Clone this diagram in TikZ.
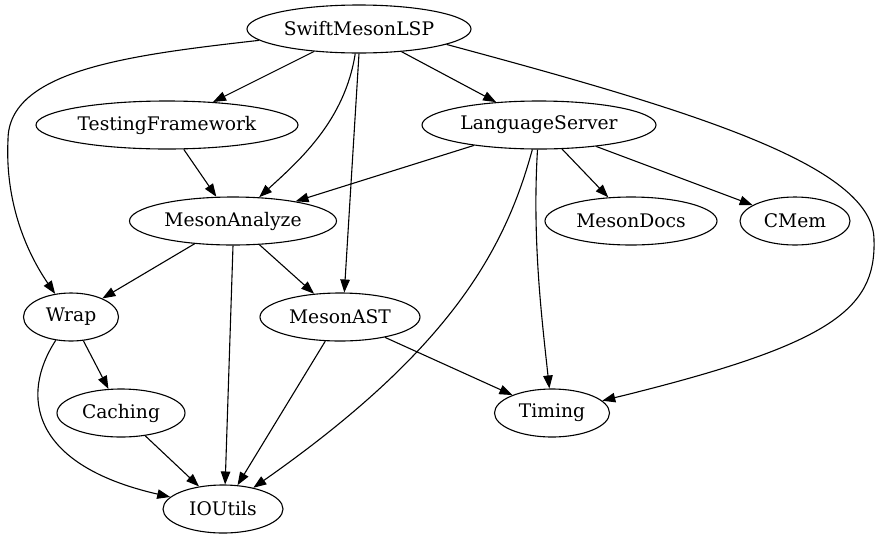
\documentclass[tikz,border=0pt]{standalone}
\usepackage{fontspec}
\setmainfont{DejaVu Serif}
\usetikzlibrary{shapes.geometric,arrows.meta}
\begin{document}
\begin{tikzpicture}[x=1pt,y=-1pt,
  nd/.style={draw,ellipse,inner sep=0pt,minimum height=48pt,line width=1.1pt,font=\fontsize{18.7}{22}\selectfont},
  edge/.style={draw,line width=1.1pt,-{Triangle[length=13pt,width=9.5pt]}},
  plain/.style={draw,line width=1.1pt}]
\useasboundingbox (0,0) rectangle (880,539);
\node[nd,minimum width=224pt] (S) at (359,29) {SwiftMesonLSP};
\node[nd,minimum width=262pt] (TF) at (167,125) {TestingFramework};
\node[nd,minimum width=234pt] (LS) at (539,125) {LanguageServer};
\node[nd,minimum width=207pt] (MA) at (233,221) {MesonAnalyze};
\node[nd,minimum width=172pt] (MD) at (631,221) {MesonDocs};
\node[nd,minimum width=110pt] (CM) at (795,221) {CMem};
\node[nd,minimum width=95pt] (W) at (71,317) {Wrap};
\node[nd,minimum width=160pt] (AST) at (340,317) {MesonAST};
\node[nd,minimum width=128pt] (C) at (121,413) {Caching};
\node[nd,minimum width=115pt] (T) at (552,413) {Timing};
\node[nd,minimum width=120pt] (IO) at (223,509) {IOUtils};
\coordinate (wl) at (8,140);
\coordinate (tr) at (874,240);
% straight edges
\draw[edge] (S) -- (TF);
\draw[edge] (S) -- (LS);
\draw[edge] (S.south) -- (AST.80);
\draw[edge] (TF) -- (MA);
\draw[edge] (LS) -- (MA);
\draw[edge] (LS) -- (MD);
\draw[edge] (LS) -- (CM);
\draw[edge] (MA) -- (W);
\draw[edge] (MA) -- (AST);
\draw[edge] (W) -- (C);
\draw[edge] (C) -- (IO);
\draw[edge] (AST) -- (IO);
\draw[edge] (AST) -- (T);
\draw[edge] (MA.south) -- (IO.85);
% curved edges
\draw[plain] (S) .. controls (130,55) and (8,70) .. (wl);
\draw[edge] (wl) .. controls (5,200) and (25,250) .. (W);
\draw[edge] (S) .. controls (345,120) and (300,160) .. (MA);
\draw[plain] (S.-10) .. controls (690,110) and (874,165) .. (tr);
\draw[edge] (tr) .. controls (876,310) and (830,345) .. (T);
\draw[edge] (LS) .. controls (505,250) and (450,350) .. (IO);
\draw[edge] (LS) .. controls (532,240) and (542,320) .. (T);
\draw[edge] (W) .. controls (20,395) and (30,465) .. (IO);
\end{tikzpicture}
\end{document}
